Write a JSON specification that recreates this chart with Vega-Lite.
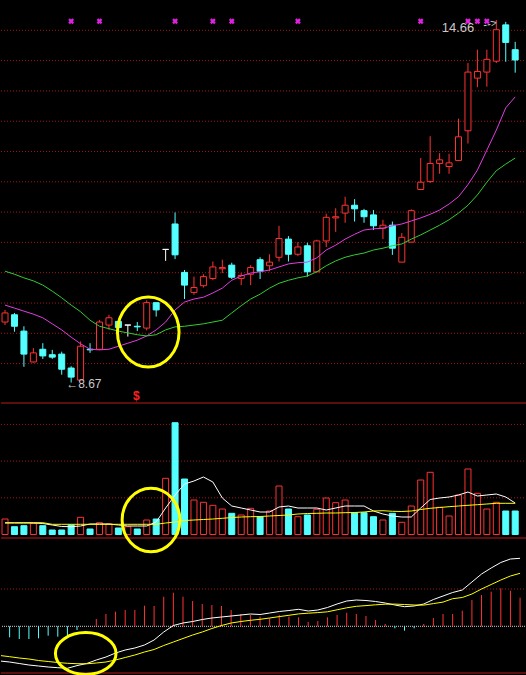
{
  "$schema": "https://vega.github.io/schema/vega-lite/v6.json",
  "background": "#000000",
  "padding": 0,
  "autosize": {"type": "pad"},
  "spacing": 0,
  "bounds": "flush",
  "config": {"view": {"stroke": null}},
  "datasets": {
    "k": [
      {"i":0,"o":9.67,"c":9.82,"h":9.87,"l":9.62,"m1":9.95,"m2":10.51,"v":15.5,"v5":11.5,"v10":11.8,"m":-0.11,"dif":-0.347,"dea":-0.292},
      {"i":1,"o":9.79,"c":9.6,"h":9.82,"l":9.51,"m1":9.9,"m2":10.46,"v":7.8,"v5":11.5,"v10":11.8,"m":-0.11,"dif":-0.357,"dea":-0.304},
      {"i":2,"o":9.52,"c":9.14,"h":9.6,"l":8.93,"m1":9.85,"m2":10.4,"v":8.8,"v5":11.5,"v10":11.8,"m":-0.127,"dif":-0.372,"dea":-0.317},
      {"i":3,"o":9.01,"c":9.16,"h":9.24,"l":9.0,"m1":9.8,"m2":10.35,"v":11.2,"v5":11.5,"v10":11.8,"m":-0.127,"dif":-0.387,"dea":-0.327},
      {"i":4,"o":9.22,"c":9.11,"h":9.32,"l":9.06,"m1":9.74,"m2":10.28,"v":8.8,"v5":11.0,"v10":11.8,"m":-0.12,"dif":-0.397,"dea":-0.342},
      {"i":5,"o":9.13,"c":9.09,"h":9.21,"l":9.06,"m1":9.64,"m2":10.18,"v":4.5,"v5":9.5,"v10":10.2,"m":-0.094,"dif":-0.407,"dea":-0.352},
      {"i":6,"o":9.14,"c":8.89,"h":9.18,"l":8.8,"m1":9.54,"m2":10.07,"v":4.5,"v5":8.0,"v10":10.2,"m":-0.104,"dif":-0.414,"dea":-0.362},
      {"i":7,"o":8.91,"c":8.76,"h":8.94,"l":8.67,"m1":9.42,"m2":9.95,"v":9.5,"v5":7.8,"v10":10.2,"m":-0.104,"dif":-0.42,"dea":-0.37},
      {"i":8,"o":8.71,"c":9.27,"h":9.35,"l":8.7,"m1":9.31,"m2":9.84,"v":17.2,"v5":8.5,"v10":10.2,"m":-0.037,"dif":-0.393,"dea":-0.374},
      {"i":9,"o":9.22,"c":9.21,"h":9.32,"l":9.16,"m1":9.22,"m2":9.7,"v":5.5,"v5":10.5,"v10":10.2,"m":0,"dif":-0.372,"dea":-0.375},
      {"i":10,"o":9.22,"c":9.67,"h":9.7,"l":9.21,"m1":9.21,"m2":9.6,"v":11.8,"v5":10.5,"v10":10.2,"m":0.073,"dif":-0.337,"dea":-0.367},
      {"i":11,"o":9.62,"c":9.74,"h":9.79,"l":9.54,"m1":9.22,"m2":9.56,"v":10.5,"v5":10.5,"v10":10.2,"m":0.123,"dif":-0.307,"dea":-0.357},
      {"i":12,"o":9.68,"c":9.58,"h":9.7,"l":9.54,"m1":9.27,"m2":9.52,"v":6.5,"v5":9.5,"v10":10.2,"m":0.146,"dif":-0.267,"dea":-0.337},
      {"i":13,"o":9.62,"c":9.62,"h":9.62,"l":9.43,"m1":9.32,"m2":9.49,"v":7.8,"v5":8.5,"v10":10.2,"m":0.163,"dif":-0.237,"dea":-0.312},
      {"i":14,"o":9.6,"c":9.59,"h":9.67,"l":9.52,"m1":9.37,"m2":9.46,"v":5.5,"v5":8.5,"v10":10.2,"m":0.163,"dif":-0.217,"dea":-0.287},
      {"i":15,"o":9.57,"c":9.99,"h":10.03,"l":9.53,"m1":9.44,"m2":9.44,"v":14.5,"v5":8.5,"v10":10.2,"m":0.206,"dif":-0.187,"dea":-0.257},
      {"i":16,"o":9.99,"c":9.87,"h":9.99,"l":9.76,"m1":9.54,"m2":9.46,"v":15.5,"v5":12.5,"v10":10.2,"m":0.203,"dif":-0.137,"dea":-0.232},
      {"i":17,"o":10.87,"c":10.87,"h":10.87,"l":10.68,"m1":9.67,"m2":9.54,"v":56.2,"v5":26.5,"v10":11.5,"m":0.296,"dif":-0.057,"dea":-0.192},
      {"i":18,"o":11.29,"c":10.78,"h":11.48,"l":10.71,"m1":9.87,"m2":9.59,"v":111.8,"v5":39.5,"v10":12.5,"m":0.336,"dif":0.008,"dea":-0.157},
      {"i":19,"o":10.49,"c":10.28,"h":10.53,"l":10.05,"m1":10.0,"m2":9.6,"v":55.5,"v5":50.5,"v10":14.0,"m":0.296,"dif":0.033,"dea":-0.122},
      {"i":20,"o":10.16,"c":10.24,"h":10.42,"l":10.12,"m1":10.05,"m2":9.62,"v":34.5,"v5":53.5,"v10":14.5,"m":0.253,"dif":0.048,"dea":-0.087},
      {"i":21,"o":10.27,"c":10.42,"h":10.46,"l":10.24,"m1":10.08,"m2":9.64,"v":32.2,"v5":57.5,"v10":15.0,"m":0.223,"dif":0.068,"dea":-0.057},
      {"i":22,"o":10.39,"c":10.58,"h":10.67,"l":10.36,"m1":10.15,"m2":9.67,"v":29.2,"v5":52.5,"v10":15.5,"m":0.213,"dif":0.083,"dea":-0.022},
      {"i":23,"o":10.55,"c":10.57,"h":10.7,"l":10.48,"m1":10.23,"m2":9.7,"v":25.5,"v5":36.5,"v10":16.2,"m":0.203,"dif":0.093,"dea":0.008},
      {"i":24,"o":10.61,"c":10.41,"h":10.65,"l":10.38,"m1":10.36,"m2":9.82,"v":21.2,"v5":28.5,"v10":17.0,"m":0.163,"dif":0.103,"dea":0.033},
      {"i":25,"o":10.39,"c":10.44,"h":10.48,"l":10.28,"m1":10.43,"m2":9.94,"v":19.5,"v5":26.5,"v10":17.5,"m":0.123,"dif":0.113,"dea":0.048},
      {"i":26,"o":10.46,"c":10.57,"h":10.61,"l":10.28,"m1":10.48,"m2":10.05,"v":26.2,"v5":24.5,"v10":17.8,"m":0.113,"dif":0.123,"dea":0.06},
      {"i":27,"o":10.7,"c":10.51,"h":10.74,"l":10.38,"m1":10.5,"m2":10.13,"v":17.8,"v5":22.5,"v10":18.0,"m":0.096,"dif":0.118,"dea":0.07},
      {"i":28,"o":10.6,"c":10.66,"h":10.79,"l":10.51,"m1":10.53,"m2":10.23,"v":23.5,"v5":22.5,"v10":18.5,"m":0.08,"dif":0.133,"dea":0.083},
      {"i":29,"o":10.74,"c":11.05,"h":11.26,"l":10.67,"m1":10.58,"m2":10.31,"v":48.5,"v5":27.5,"v10":19.0,"m":0.113,"dif":0.148,"dea":0.097},
      {"i":30,"o":11.04,"c":10.79,"h":11.09,"l":10.67,"m1":10.63,"m2":10.36,"v":25.5,"v5":28.5,"v10":19.5,"m":0.096,"dif":0.158,"dea":0.11},
      {"i":31,"o":10.79,"c":10.91,"h":10.99,"l":10.76,"m1":10.65,"m2":10.4,"v":17.8,"v5":26.5,"v10":20.5,"m":0.09,"dif":0.17,"dea":0.124},
      {"i":32,"o":10.93,"c":10.5,"h":10.98,"l":10.42,"m1":10.66,"m2":10.43,"v":19.5,"v5":26.5,"v10":21.0,"m":0.043,"dif":0.153,"dea":0.131},
      {"i":33,"o":10.5,"c":11.01,"h":11.03,"l":10.49,"m1":10.73,"m2":10.5,"v":25.2,"v5":26.5,"v10":21.2,"m":0.053,"dif":0.163,"dea":0.137},
      {"i":34,"o":11.01,"c":11.4,"h":11.46,"l":10.91,"m1":10.86,"m2":10.6,"v":36.5,"v5":24.5,"v10":21.5,"m":0.09,"dif":0.188,"dea":0.145},
      {"i":35,"o":11.39,"c":11.41,"h":11.55,"l":11.16,"m1":10.94,"m2":10.68,"v":31.8,"v5":26.5,"v10":21.5,"m":0.113,"dif":0.223,"dea":0.165},
      {"i":36,"o":11.47,"c":11.6,"h":11.74,"l":11.31,"m1":11.04,"m2":10.74,"v":34.5,"v5":28.5,"v10":21.8,"m":0.136,"dif":0.253,"dea":0.185},
      {"i":37,"o":11.6,"c":11.54,"h":11.7,"l":11.33,"m1":11.12,"m2":10.78,"v":21.8,"v5":28.5,"v10":22.0,"m":0.123,"dif":0.263,"dea":0.2},
      {"i":38,"o":11.51,"c":11.41,"h":11.54,"l":11.31,"m1":11.19,"m2":10.81,"v":21.8,"v5":28.5,"v10":22.5,"m":0.103,"dif":0.258,"dea":0.207},
      {"i":39,"o":11.44,"c":11.26,"h":11.52,"l":11.19,"m1":11.21,"m2":10.86,"v":17.8,"v5":23.5,"v10":23.5,"m":0.063,"dif":0.248,"dea":0.215},
      {"i":40,"o":11.22,"c":11.27,"h":11.36,"l":11.04,"m1":11.22,"m2":10.89,"v":14.5,"v5":20.5,"v10":23.8,"m":0.023,"dif":0.233,"dea":0.221},
      {"i":41,"o":11.27,"c":10.89,"h":11.33,"l":10.78,"m1":11.26,"m2":10.93,"v":21.2,"v5":18.5,"v10":23.2,"m":-0.02,"dif":0.213,"dea":0.222},
      {"i":42,"o":10.66,"c":11.07,"h":11.14,"l":10.66,"m1":11.29,"m2":10.96,"v":12.2,"v5":17.5,"v10":23.0,"m":-0.044,"dif":0.196,"dea":0.218},
      {"i":43,"o":10.99,"c":11.51,"h":11.53,"l":10.99,"m1":11.34,"m2":11.04,"v":28.5,"v5":17.5,"v10":23.5,"m":-0.02,"dif":0.203,"dea":0.213},
      {"i":44,"o":11.86,"c":11.98,"h":12.38,"l":11.85,"m1":11.39,"m2":11.11,"v":54.5,"v5":26.5,"v10":25.0,"m":0.023,"dif":0.223,"dea":0.212},
      {"i":45,"o":11.99,"c":12.29,"h":12.74,"l":11.97,"m1":11.45,"m2":11.19,"v":62.2,"v5":35.0,"v10":26.2,"m":0.083,"dif":0.268,"dea":0.227},
      {"i":46,"o":12.29,"c":12.35,"h":12.46,"l":12.12,"m1":11.52,"m2":11.27,"v":27.2,"v5":36.5,"v10":27.0,"m":0.123,"dif":0.303,"dea":0.242},
      {"i":47,"o":12.24,"c":12.3,"h":12.45,"l":12.12,"m1":11.62,"m2":11.36,"v":18.5,"v5":37.5,"v10":27.8,"m":0.123,"dif":0.338,"dea":0.276},
      {"i":48,"o":12.34,"c":12.73,"h":13.03,"l":12.34,"m1":11.74,"m2":11.47,"v":39.5,"v5":39.5,"v10":28.5,"m":0.156,"dif":0.363,"dea":0.288},
      {"i":49,"o":12.83,"c":13.8,"h":13.95,"l":12.62,"m1":11.94,"m2":11.6,"v":65.5,"v5":42.5,"v10":29.2,"m":0.263,"dif":0.443,"dea":0.323},
      {"i":50,"o":13.7,"c":13.81,"h":14.17,"l":13.55,"m1":12.18,"m2":11.77,"v":41.2,"v5":38.5,"v10":29.8,"m":0.313,"dif":0.523,"dea":0.373},
      {"i":51,"o":13.8,"c":14.01,"h":14.17,"l":13.56,"m1":12.51,"m2":11.98,"v":25.5,"v5":39.5,"v10":30.5,"m":0.346,"dif":0.583,"dea":0.418},
      {"i":52,"o":13.98,"c":14.5,"h":14.66,"l":13.95,"m1":12.84,"m2":12.17,"v":32.2,"v5":40.5,"v10":31.2,"m":0.38,"dif":0.638,"dea":0.463},
      {"i":53,"o":14.58,"c":14.29,"h":14.63,"l":13.97,"m1":13.21,"m2":12.28,"v":23.5,"v5":37.5,"v10":31.2,"m":0.356,"dif":0.673,"dea":0.503},
      {"i":54,"o":14.17,"c":14.0,"h":14.3,"l":13.79,"m1":13.39,"m2":12.38,"v":23.5,"v5":31.5,"v10":31.2,"m":0.286,"dif":0.68,"dea":0.53}
    ],
    "marks": [{"i":7},{"i":10},{"i":18},{"i":22},{"i":24},{"i":31},{"i":44},{"i":49},{"i":50},{"i":51}],
    "pgrid": [{"g":8.983},{"g":9.484},{"g":9.984},{"g":10.485},{"g":10.986},{"g":11.486},{"g":11.987},{"g":12.488},{"g":12.988},{"g":13.489},{"g":13.99},{"g":14.49}],
    "vgrid": [{"g":36.7},{"g":73.4},{"g":110.1}]
  },
  "vconcat": [
    {
      "width": 526,
      "height": 403,
      "layer": [
        {
          "data": {"name": "pgrid"},
          "mark": {"type": "rule", "color": "#a01818", "strokeDash": [1, 2], "strokeWidth": 1},
          "encoding": {"y": {"field": "g", "type": "quantitative", "scale": {"domain": [8.332, 14.991], "nice": false, "zero": false}, "axis": null}}
        },
        {
          "data": {"values": [{"g": 8.332}]},
          "mark": {"type": "rule", "color": "#b81c1c", "strokeWidth": 1},
          "encoding": {"y": {"field": "g", "type": "quantitative", "scale": {"domain": [8.332, 14.991], "nice": false, "zero": false}, "axis": null}}
        },
        {
          "data": {"name": "k"},
          "mark": {"type": "rule", "clip": true, "strokeWidth": 1},
          "encoding": {
            "x": {"field": "i", "type": "quantitative", "scale": {"domain": [0.104, 54.72], "nice": false, "zero": false}, "axis": null},
            "y": {"field": "l", "type": "quantitative", "scale": {"domain": [8.332, 14.991], "nice": false, "zero": false}, "axis": null},
            "y2": {"field": "h"},
            "color": {"condition": [{"test": "datum.c > datum.o", "value": "#ff3232"}, {"test": "datum.c < datum.o", "value": "#54ffff"}], "value": "#ffffff"}
          }
        },
        {
          "data": {"name": "k"},
          "mark": {"type": "bar", "clip": true, "size": 6, "strokeWidth": 1},
          "encoding": {
            "x": {"field": "i", "type": "quantitative", "scale": {"domain": [0.104, 54.72], "nice": false, "zero": false}, "axis": null},
            "y": {"field": "o", "type": "quantitative", "scale": {"domain": [8.332, 14.991], "nice": false, "zero": false}, "axis": null},
            "y2": {"field": "c"},
            "fill": {"condition": [{"test": "datum.c > datum.o", "value": "#000000"}, {"test": "datum.c < datum.o", "value": "#54ffff"}], "value": "#ffffff"},
            "stroke": {"condition": [{"test": "datum.c > datum.o", "value": "#ff3232"}, {"test": "datum.c < datum.o", "value": "#54ffff"}], "value": "#ffffff"}
          }
        },
        {
          "data": {"name": "k"},
          "mark": {"type": "line", "clip": true, "color": "#e23de2", "strokeWidth": 1},
          "encoding": {
            "x": {"field": "i", "type": "quantitative", "scale": {"domain": [0.104, 54.72], "nice": false, "zero": false}, "axis": null},
            "y": {"field": "m1", "type": "quantitative", "scale": {"domain": [8.332, 14.991], "nice": false, "zero": false}, "axis": null}
          }
        },
        {
          "data": {"name": "k"},
          "mark": {"type": "line", "clip": true, "color": "#33cc33", "strokeWidth": 1},
          "encoding": {
            "x": {"field": "i", "type": "quantitative", "scale": {"domain": [0.104, 54.72], "nice": false, "zero": false}, "axis": null},
            "y": {"field": "m2", "type": "quantitative", "scale": {"domain": [8.332, 14.991], "nice": false, "zero": false}, "axis": null}
          }
        },
        {
          "data": {"name": "marks"},
          "mark": {"type": "point", "shape": "cross", "angle": 45, "filled": true, "size": 34, "color": "#e020e0", "opacity": 1},
          "encoding": {
            "x": {"field": "i", "type": "quantitative", "scale": {"domain": [0.104, 54.72], "nice": false, "zero": false}, "axis": null},
            "y": {"datum": 14.64, "type": "quantitative", "scale": {"domain": [8.332, 14.991], "nice": false, "zero": false}, "axis": null}
          }
        },
        {
          "data": {"values": [{"i": 52, "p": 14.66, "t": "14.66"}]},
          "mark": {"type": "text", "align": "right", "baseline": "middle", "dx": -22, "dy": 8, "font": "Liberation Sans", "fontSize": 13, "color": "#c8c8c8"},
          "encoding": {
            "x": {"field": "i", "type": "quantitative", "scale": {"domain": [0.104, 54.72], "nice": false, "zero": false}, "axis": null},
            "y": {"field": "p", "type": "quantitative", "scale": {"domain": [8.332, 14.991], "nice": false, "zero": false}, "axis": null},
            "text": {"field": "t"}
          }
        },
        {
          "data": {"values": [{"i": 52, "p": 14.66, "t": "-->"}]},
          "mark": {"type": "text", "align": "right", "baseline": "middle", "dx": 0, "dy": 3, "angle": -12, "font": "Liberation Sans", "fontSize": 11, "color": "#c8c8c8"},
          "encoding": {
            "x": {"field": "i", "type": "quantitative", "scale": {"domain": [0.104, 54.72], "nice": false, "zero": false}, "axis": null},
            "y": {"field": "p", "type": "quantitative", "scale": {"domain": [8.332, 14.991], "nice": false, "zero": false}, "axis": null},
            "text": {"field": "t"}
          }
        },
        {
          "data": {"values": [{"i": 7, "p": 8.67, "t": "←8.67"}]},
          "mark": {"type": "text", "align": "left", "baseline": "middle", "dx": -5, "dy": 1, "font": "Liberation Sans", "fontSize": 12, "color": "#c8c8c8"},
          "encoding": {
            "x": {"field": "i", "type": "quantitative", "scale": {"domain": [0.104, 54.72], "nice": false, "zero": false}, "axis": null},
            "y": {"field": "p", "type": "quantitative", "scale": {"domain": [8.332, 14.991], "nice": false, "zero": false}, "axis": null},
            "text": {"field": "t"}
          }
        },
        {
          "data": {"values": [{"i": 14, "p": 8.45, "t": "$"}]},
          "mark": {"type": "text", "align": "center", "baseline": "middle", "dx": -1, "font": "Liberation Sans", "fontSize": 12, "fontWeight": "bold", "color": "#ff2020"},
          "encoding": {
            "x": {"field": "i", "type": "quantitative", "scale": {"domain": [0.104, 54.72], "nice": false, "zero": false}, "axis": null},
            "y": {"field": "p", "type": "quantitative", "scale": {"domain": [8.332, 14.991], "nice": false, "zero": false}, "axis": null},
            "text": {"field": "t"}
          }
        },
        {
          "data": {"values": [{"i": 15.16, "p": 9.505}]},
          "mark": {"type": "point", "shape": "M -0.88 0 A 0.88 1 0 1 1 0.88 0 A 0.88 1 0 1 1 -0.88 0 Z", "size": 4900, "filled": false, "stroke": "#ffff00", "strokeWidth": 3, "opacity": 1},
          "encoding": {
            "x": {"field": "i", "type": "quantitative", "scale": {"domain": [0.104, 54.72], "nice": false, "zero": false}, "axis": null},
            "y": {"field": "p", "type": "quantitative", "scale": {"domain": [8.332, 14.991], "nice": false, "zero": false}, "axis": null}
          }
        }
      ]
    },
    {
      "width": 526,
      "height": 135,
      "layer": [
        {
          "data": {"name": "vgrid"},
          "mark": {"type": "rule", "color": "#a01818", "strokeDash": [1, 2], "strokeWidth": 1},
          "encoding": {"y": {"field": "g", "type": "quantitative", "scale": {"domain": [-3.5, 131.5], "nice": false, "zero": false}, "axis": null}}
        },
        {
          "data": {"values": [{"g": -3.5}]},
          "mark": {"type": "rule", "color": "#b81c1c", "strokeWidth": 1},
          "encoding": {"y": {"field": "g", "type": "quantitative", "scale": {"domain": [-3.5, 131.5], "nice": false, "zero": false}, "axis": null}}
        },
        {
          "data": {"name": "k"},
          "mark": {"type": "bar", "clip": true, "size": 6, "strokeWidth": 1},
          "encoding": {
            "x": {"field": "i", "type": "quantitative", "scale": {"domain": [0.104, 54.72], "nice": false, "zero": false}, "axis": null},
            "y": {"field": "v", "type": "quantitative", "scale": {"domain": [-3.5, 131.5], "nice": false, "zero": false}, "axis": null},
            "y2": {"datum": 0},
            "fill": {"condition": {"test": "datum.c >= datum.o", "value": "#000000"}, "value": "#54ffff"},
            "stroke": {"condition": {"test": "datum.c >= datum.o", "value": "#ff3232"}, "value": "#54ffff"}
          }
        },
        {
          "data": {"name": "k"},
          "mark": {"type": "line", "clip": true, "color": "#ffffff", "strokeWidth": 1},
          "encoding": {
            "x": {"field": "i", "type": "quantitative", "scale": {"domain": [0.104, 54.72], "nice": false, "zero": false}, "axis": null},
            "y": {"field": "v5", "type": "quantitative", "scale": {"domain": [-3.5, 131.5], "nice": false, "zero": false}, "axis": null}
          }
        },
        {
          "data": {"name": "k"},
          "mark": {"type": "line", "clip": true, "color": "#ffff00", "strokeWidth": 1},
          "encoding": {
            "x": {"field": "i", "type": "quantitative", "scale": {"domain": [0.104, 54.72], "nice": false, "zero": false}, "axis": null},
            "y": {"field": "v10", "type": "quantitative", "scale": {"domain": [-3.5, 131.5], "nice": false, "zero": false}, "axis": null}
          }
        },
        {
          "data": {"values": [{"i": 15.45, "p": 14.5}]},
          "mark": {"type": "point", "shape": "M -0.91 0 A 0.91 1 0 1 1 0.91 0 A 0.91 1 0 1 1 -0.91 0 Z", "size": 4020, "filled": false, "stroke": "#ffff00", "strokeWidth": 3, "opacity": 1},
          "encoding": {
            "x": {"field": "i", "type": "quantitative", "scale": {"domain": [0.104, 54.72], "nice": false, "zero": false}, "axis": null},
            "y": {"field": "p", "type": "quantitative", "scale": {"domain": [-3.5, 131.5], "nice": false, "zero": false}, "axis": null}
          }
        }
      ]
    },
    {
      "width": 526,
      "height": 135,
      "layer": [
        {
          "data": {"values": [{"g": 0.373}]},
          "mark": {"type": "rule", "color": "#a01818", "strokeDash": [1, 2], "strokeWidth": 1},
          "encoding": {"y": {"field": "g", "type": "quantitative", "scale": {"domain": [-0.467, 0.883], "nice": false, "zero": false}, "axis": null}}
        },
        {
          "data": {"values": [{"g": 0}]},
          "mark": {"type": "rule", "color": "#d0d0d0", "strokeDash": [1, 1], "strokeWidth": 1},
          "encoding": {"y": {"field": "g", "type": "quantitative", "scale": {"domain": [-0.467, 0.883], "nice": false, "zero": false}, "axis": null}}
        },
        {
          "data": {"values": [{"g": -0.467}]},
          "mark": {"type": "rule", "color": "#b81c1c", "strokeWidth": 1},
          "encoding": {"y": {"field": "g", "type": "quantitative", "scale": {"domain": [-0.467, 0.883], "nice": false, "zero": false}, "axis": null}}
        },
        {
          "data": {"name": "k"},
          "mark": {"type": "rule", "clip": true, "strokeWidth": 1},
          "encoding": {
            "x": {"field": "i", "type": "quantitative", "scale": {"domain": [0.104, 54.72], "nice": false, "zero": false}, "axis": null},
            "y": {"field": "m", "type": "quantitative", "scale": {"domain": [-0.467, 0.883], "nice": false, "zero": false}, "axis": null},
            "y2": {"datum": 0},
            "color": {"condition": {"test": "datum.m < 0", "value": "#54ffff"}, "value": "#ff3232"}
          }
        },
        {
          "data": {"name": "k"},
          "mark": {"type": "line", "clip": true, "color": "#ffffff", "strokeWidth": 1},
          "encoding": {
            "x": {"field": "i", "type": "quantitative", "scale": {"domain": [0.104, 54.72], "nice": false, "zero": false}, "axis": null},
            "y": {"field": "dif", "type": "quantitative", "scale": {"domain": [-0.467, 0.883], "nice": false, "zero": false}, "axis": null}
          }
        },
        {
          "data": {"name": "k"},
          "mark": {"type": "line", "clip": true, "color": "#ffff00", "strokeWidth": 1},
          "encoding": {
            "x": {"field": "i", "type": "quantitative", "scale": {"domain": [0.104, 54.72], "nice": false, "zero": false}, "axis": null},
            "y": {"field": "dea", "type": "quantitative", "scale": {"domain": [-0.467, 0.883], "nice": false, "zero": false}, "axis": null}
          }
        },
        {
          "data": {"values": [{"i": 8.9, "p": -0.272}]},
          "mark": {"type": "point", "shape": "M -1 0 A 1 0.69 0 1 1 1 0 A 1 0.69 0 1 1 -1 0 Z", "size": 3672, "filled": false, "stroke": "#ffff00", "strokeWidth": 3, "opacity": 1},
          "encoding": {
            "x": {"field": "i", "type": "quantitative", "scale": {"domain": [0.104, 54.72], "nice": false, "zero": false}, "axis": null},
            "y": {"field": "p", "type": "quantitative", "scale": {"domain": [-0.467, 0.883], "nice": false, "zero": false}, "axis": null}
          }
        }
      ]
    }
  ]
}
